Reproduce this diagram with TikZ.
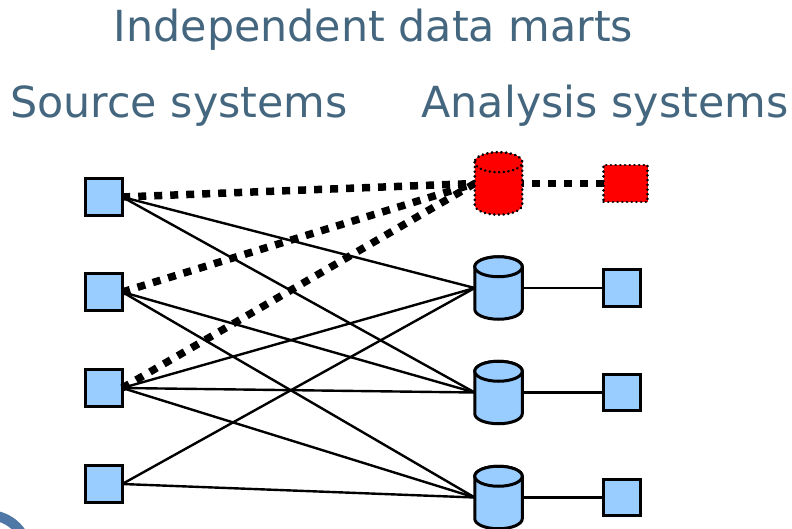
\documentclass[tikz,border=0pt]{standalone}
\usepackage{fontspec}
\setmainfont{DejaVu Sans}
\definecolor{titlecol}{HTML}{44677F}
\definecolor{boxblue}{HTML}{99CCFF}
\definecolor{ringblue}{HTML}{4F78A6}
\tikzset{
  x=1pt,y=-1pt,
  titletext/.style={text=titlecol,font=\fontsize{42.8}{50}\selectfont,inner sep=0pt},
  srcbox/.style={draw=black,line width=3pt,fill=boxblue,minimum width=36.5pt,minimum height=36.5pt,inner sep=0pt,outer sep=0pt},
  redbox/.style={draw=black,line width=2.8pt,line cap=round,dash pattern=on 0.1pt off 4.6pt,fill=red,minimum width=44pt,minimum height=37pt,inner sep=0pt,outer sep=0pt},
  cylbase/.style={minimum width=47.5pt,minimum height=62.5pt,inner sep=0pt,outer sep=0pt},
  cylline/.style={draw=black,line width=3pt,fill=boxblue},
  redcylline/.style={draw=black,line width=2.8pt,line cap=round,dash pattern=on 0.1pt off 4.6pt,fill=red},
  link/.style={draw=black,line width=2.4pt},
  redlink/.style={draw=black,line width=7.5pt,dash pattern=on 8pt off 8pt},
}
% #1 node name, #2 style: a cylinder drawn round the named node
\newcommand{\cylbody}[2]{%
  \path[#2] ([yshift=-10pt]#1.north west) -- ([yshift=10pt]#1.south west)
     arc[start angle=180,end angle=360,x radius=23.75pt,y radius=10pt]
     -- ([yshift=-10pt]#1.north east)
     arc[start angle=0,end angle=180,x radius=23.75pt,y radius=10pt] -- cycle;
  \path[#2] ([yshift=-10pt]#1.north west)
     arc[start angle=180,end angle=360,x radius=23.75pt,y radius=10pt]
     arc[start angle=0,end angle=180,x radius=23.75pt,y radius=10pt] -- cycle;
}
\begin{document}
\begin{tikzpicture}
\useasboundingbox (0,0) rectangle (792,529);
\fill[white] (0,0) rectangle (792,529);
\begin{scope}
\clip (0,0) rectangle (792,529);
\draw[ringblue,line width=10pt] (-12,555) circle (40);
\end{scope}
\node[titletext] (title) at (373.5,30) {Independent data marts};
\node[titletext] (srcl) at (179,106) {Source systems};
\node[titletext] (anal) at (605,106) {Analysis systems};
\node[srcbox] (s1) at (104,197) {};
\node[srcbox] (s2) at (104,292) {};
\node[srcbox] (s3) at (104,388) {};
\node[srcbox] (s4) at (104,484) {};
\node[cylbase] (c1) at (498.5,183.5) {};
\node[cylbase] (c2) at (498.5,288) {};
\node[cylbase] (c3) at (498.5,392.5) {};
\node[cylbase] (c4) at (498.5,497.5) {};
\node[redbox] (a1) at (625.5,183.5) {};
\node[srcbox] (a2) at (622,288) {};
\node[srcbox] (a3) at (622,392.5) {};
\node[srcbox] (a4) at (622,497.5) {};
\draw[link] (s1.east) -- (c2.west);
\draw[link] (s1.east) -- (c3.west);
\draw[link] (s2.east) -- (c3.west);
\draw[link] (s2.east) -- (c4.west);
\draw[link] (s3.east) -- (c2.west);
\draw[link] (s3.east) -- (c3.west);
\draw[link] (s3.east) -- (c4.west);
\draw[link] (s4.east) -- (c2.west);
\draw[link] (s4.east) -- (c4.west);
\draw[link] (c2.east) -- (a2.west);
\draw[link] (c3.east) -- (a3.west);
\draw[link] (c4.east) -- (a4.west);
\draw[redlink] (s1.east) -- (c1.west);
\draw[redlink] (s2.east) -- (c1.west);
\draw[redlink] (s3.east) -- (c1.west);
\draw[redlink] (a1.west) -- (c1.east);
\cylbody{c1}{redcylline}
\cylbody{c2}{cylline}
\cylbody{c3}{cylline}
\cylbody{c4}{cylline}
\end{tikzpicture}
\end{document}
